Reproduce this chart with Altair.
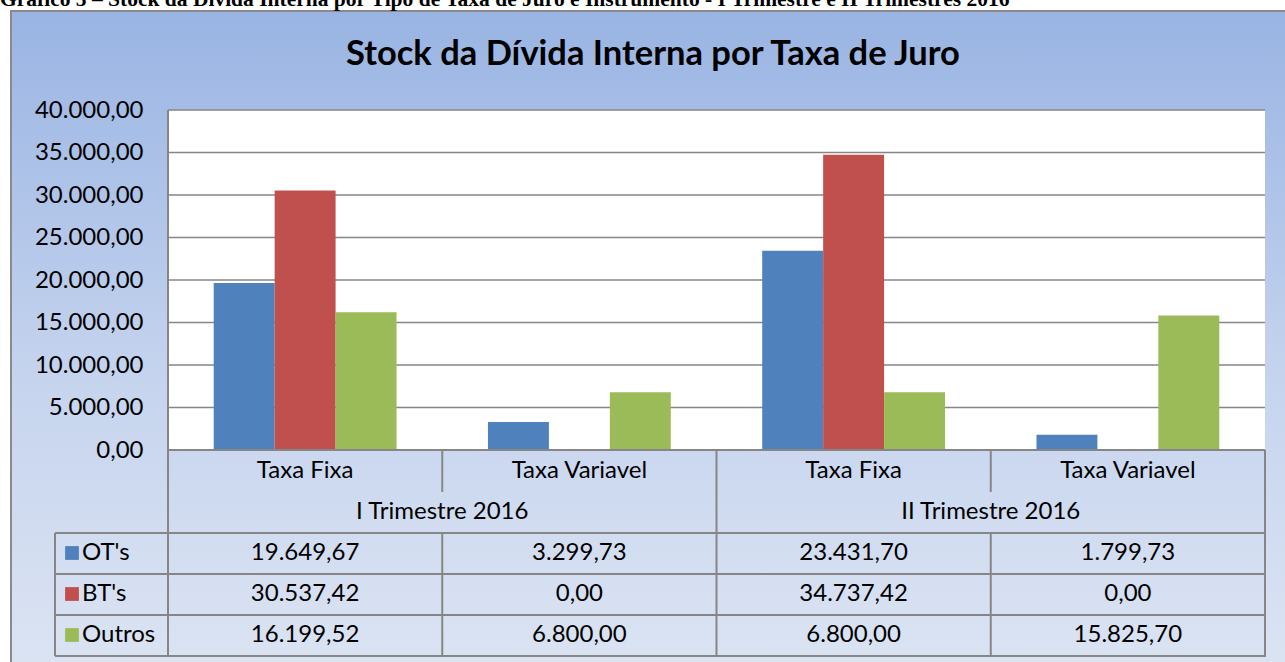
import altair as alt
import pandas as pd

# ---------------- data ----------------
periods = ["I Trimestre 2016", "I Trimestre 2016", "II Trimestre 2016", "II Trimestre 2016"]
rates = ["Taxa Fixa", "Taxa Variavel", "Taxa Fixa", "Taxa Variavel"]
series = ["OT's", "BT's", "Outros"]
ots = [19649.67, 3299.73, 23431.70, 1799.73]
bts = [30537.42, 0.00, 34737.42, 0.00]
outros = [16199.52, 6800.00, 6800.00, 15825.70]
colors = ["#4f81bd", "#c0504d", "#9bbb59"]
y_ticks = [0, 5000, 10000, 15000, 20000, 25000, 30000, 35000, 40000]
title_text = "Stock da Dívida Interna por Taxa de Juro"
caption_text = ("Gráfico 5 – Stock da Dívida Interna por Tipo de Taxa de Juro e Instrumento"
                " - I Trimestre e II Trimestres 2016")

cats = [f"{p}|{r}" for p, r in zip(periods, rates)]


def fmt(v):
    return f"{v:,.2f}".replace(",", "#").replace(".", ",").replace("#", ".")


rows = []
for s, vals in zip(series, [ots, bts, outros]):
    for c, p, r, v in zip(cats, periods, rates, vals):
        rows.append(dict(cat=c, period=p, rate=r, series=s, value=v, label=fmt(v)))
df = pd.DataFrame(rows)
cols = pd.DataFrame(dict(cat=cats, period=periods, rate=rates, idx=list(range(4))))
ticks_df = pd.DataFrame({"tick": y_ticks})
legend_df = pd.DataFrame({"series": series})
one = pd.DataFrame({"a": [0]})

# ---------------- layout / style ----------------
W, H = 1097, 340
FONT = "Lato"
GRID = "#868686"
FS = 24

x_scale = alt.Scale(domain=cats, paddingInner=0, paddingOuter=0)
x_enc = alt.X("cat:N", scale=x_scale, axis=None)
y_scale = alt.Scale(domain=[0, 40000], nice=False, zero=True)
row_enc = alt.Y("series:N", scale=alt.Scale(type="point", domain=series, range=[443, 525], padding=0), axis=None)
color_enc = alt.Color("series:N", scale=alt.Scale(domain=series, range=colors), legend=None)

label_expr = ("replace(replace(replace(format(datum.value, ',.2f'), ',', '#'), '.', ','), '#', '.')")

background = alt.Chart(one).mark_rect(
    fill=alt.Gradient(gradient="linear",
                      stops=[alt.GradientStop(color="#99b4e3", offset=0),
                             alt.GradientStop(color="#c6d4ee", offset=0.55),
                             alt.GradientStop(color="#dde5f3", offset=1)],
                      x1=0, x2=0, y1=0, y2=1),
    stroke="#8a8a8a", strokeWidth=2,
).encode(x=alt.value(-157), x2=alt.value(1140), y=alt.value(-99), y2=alt.value(580))

plot_bg = alt.Chart(one).mark_rect(fill="white").encode(
    x=alt.value(0), x2=alt.value(W), y=alt.value(0), y2=alt.value(H))

grid = alt.Chart(ticks_df).mark_rule(color=GRID, strokeWidth=1.6).encode(
    y=alt.Y("tick:Q", scale=y_scale, axis=None), x=alt.value(0), x2=alt.value(W))

bars = alt.Chart(df).mark_bar().encode(
    x=x_enc,
    xOffset=alt.XOffset("series:N", scale=alt.Scale(domain=series, paddingInner=0, paddingOuter=0.75)),
    y=alt.Y("value:Q", scale=y_scale,
            axis=alt.Axis(values=y_ticks, labelExpr=label_expr, grid=False, domain=False, ticks=False,
                          labelFontSize=FS, labelFont=FONT, labelColor="black", labelPadding=25,
                          title=None, zindex=1)),
    color=color_enc,
)


def hrule(y, x0, x1):
    return alt.Chart(one).mark_rule(color=GRID, strokeWidth=2).encode(
        x=alt.value(x0), x2=alt.value(x1), y=alt.value(y))


def vrule(flt, band, y0, y1):
    return alt.Chart(cols).transform_filter(flt).mark_rule(color=GRID, strokeWidth=2).encode(
        x=alt.X("cat:N", scale=x_scale, axis=None, bandPosition=band),
        y=alt.value(y0), y2=alt.value(y1))


rules = [
    hrule(H, 0, W),
    hrule(423, -113, W + 1),
    hrule(464, -113, W + 1),
    hrule(505, -113, W + 1),
    hrule(546, -113, W + 1),
    alt.Chart(one).mark_rule(color=GRID, strokeWidth=2).encode(
        x=alt.value(-113), y=alt.value(423), y2=alt.value(546)),
    vrule("datum.idx == 0", 0, 0, 546),
    vrule("datum.idx == 1 || datum.idx == 3", 0, H, 382),
    vrule("datum.idx == 1 || datum.idx == 3", 0, 423, 546),
    vrule("datum.idx == 2", 0, H, 546),
    vrule("datum.idx == 3", 1, H, 546),
]

rate_text = alt.Chart(cols).mark_text(fontSize=FS, font=FONT, color="black", baseline="middle").encode(
    x=x_enc, y=alt.value(361), text="rate:N")

period_text = alt.Chart(cols).transform_filter("datum.idx == 1 || datum.idx == 3").mark_text(
    fontSize=FS, font=FONT, color="black", baseline="middle").encode(
    x=alt.X("cat:N", scale=x_scale, axis=None, bandPosition=0), y=alt.value(402), text="period:N")

value_text = alt.Chart(df).mark_text(fontSize=FS, font=FONT, color="black", baseline="middle").encode(
    x=x_enc, y=row_enc, text="label:N")

legend_sq = alt.Chart(legend_df).mark_square(size=190, opacity=1).encode(
    x=alt.value(-96), y=row_enc, color=color_enc)

legend_txt = alt.Chart(legend_df).mark_text(fontSize=FS, font=FONT, color="black", align="left",
                                            baseline="middle").encode(
    x=alt.value(-86), y=row_enc, text="series:N")

title = alt.Chart(one).mark_text(fontSize=34.5, font=FONT, fontWeight="bold", color="black",
                                 baseline="middle", text=title_text).encode(
    x=alt.value(485), y=alt.value(-55))

caption = alt.Chart(one).mark_text(fontSize=21.5, font="Liberation Serif", fontWeight="bold", color="black",
                                   align="left", baseline="alphabetic", text=caption_text).encode(
    x=alt.value(-168), y=alt.value(-104))

chart = alt.layer(
    background, caption, title, plot_bg, grid, bars, *rules,
    rate_text, period_text, value_text, legend_sq, legend_txt,
).resolve_scale(y="independent").properties(
    width=W, height=H,
    padding={"left": 168, "top": 110, "right": 20, "bottom": 212},
    autosize=alt.AutoSizeParams(type="none"),
).configure_view(stroke=None).configure(background="white")

chart.save("out.html", embed_options={"renderer": "svg", "actions": False})
